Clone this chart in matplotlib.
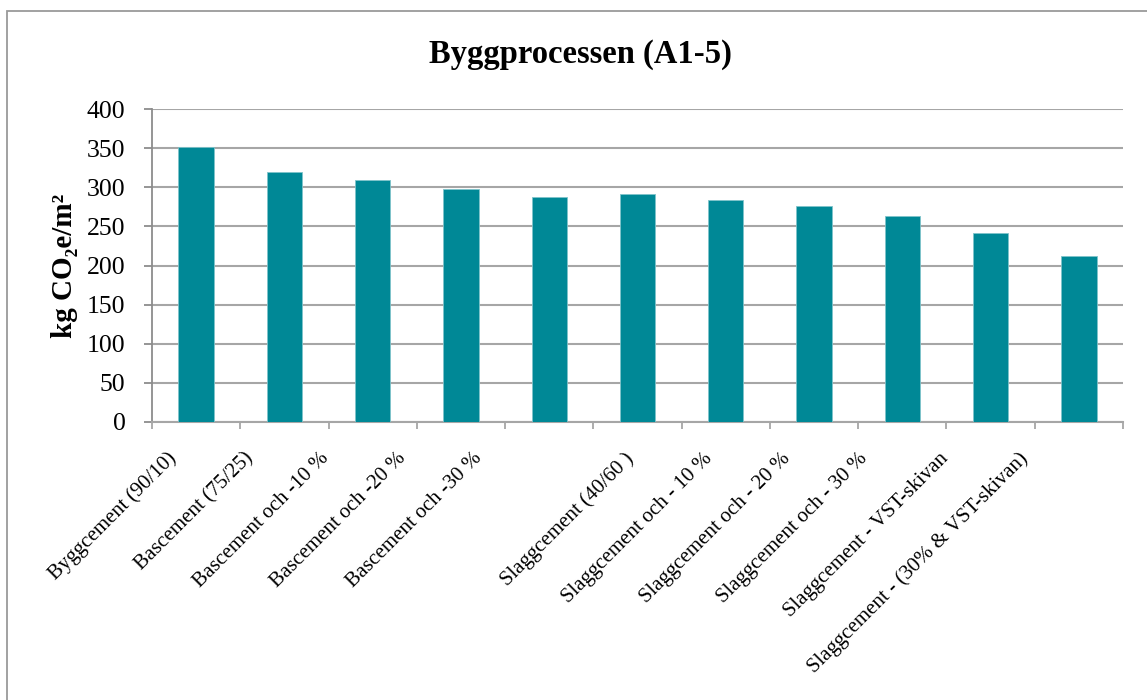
import matplotlib
matplotlib.use("Agg")
import matplotlib.pyplot as plt
from matplotlib.patches import Rectangle
from matplotlib.ticker import FixedLocator
from matplotlib.transforms import offset_copy

# data
categories = [
    "Byggcement (90/10)",
    "Bascement (75/25)",
    "Bascement och -10 %",
    "Bascement och -20 %",
    "Bascement och -30 %",
    "Slaggcement (40/60 )",
    "Slaggcement och - 10 %",
    "Slaggcement och - 20 %",
    "Slaggcement och - 30 %",
    "Slaggcement - VST-skivan",
    "Slaggcement - (30% & VST-skivan)",
]
values = [352, 320, 309, 298, 287, 292, 284, 276, 263, 241, 212]
yticks = [0, 50, 100, 150, 200, 250, 300, 350, 400]

# where Excel put the end of each rotated label, px left of the bar centre
label_shift = [-30, -41, -53, -65, -77, -14, -23, -33, -44, -52, -61]

bar_color = "#008896"
grid_color = "#a6a6a6"
plt.rcParams["font.family"] = ["Liberation Serif", "DejaVu Serif"]

W, H = 1147, 700
fig = plt.figure(figsize=(W / 100, H / 100), dpi=100)

# outer chart border (runs past right/bottom edge like the screenshot)
fig.patches.append(Rectangle((7.5 / W, -0.2), 1.2, 1.2 - 10.5 / H,
                             transform=fig.transFigure, fill=False,
                             edgecolor="#9a9a9a", linewidth=1.3))

ax = fig.add_axes([152 / W, 1 - 422 / H, (1123 - 152) / W, (422 - 109) / H])
x = list(range(len(values)))
ax.bar(x, values, width=0.4, color=bar_color, edgecolor="#7fc3ca",
       linewidth=0.6, zorder=3)

ax.set_ylim(0, 400)
ax.set_xlim(-0.5, len(values) - 0.5)
ax.set_yticks(yticks)
ax.yaxis.grid(True, color=grid_color, linewidth=1.5, zorder=0)

for s in ["top", "right"]:
    ax.spines[s].set_visible(False)
ax.spines["left"].set_color("#8c8c8c")
ax.spines["left"].set_linewidth(1.3)
ax.spines["bottom"].set_color("#a6a6a6")
ax.spines["bottom"].set_linewidth(1.5)

ax.tick_params(axis="y", direction="out", length=6, width=1.3,
               color="#8c8c8c", labelsize=18.5, pad=13)

# x tick marks sit between the bars
ax.set_xticks(x)
ax.set_xticklabels([])
ax.tick_params(axis="x", which="major", length=0)
ax.xaxis.set_minor_locator(FixedLocator([i - 0.5 for i in range(len(values) + 1)]))
ax.tick_params(axis="x", which="minor", direction="out", length=5,
               width=1.3, color="#a6a6a6")

# rotated category labels
base = ax.get_xaxis_transform()
for i, (lab, dx) in enumerate(zip(categories, label_shift)):
    tr = offset_copy(base, fig=fig, x=dx, y=-27, units="dots")
    ax.text(i, 0, lab, transform=tr, rotation=45, rotation_mode="anchor",
            ha="right", va="top", fontsize=15)

ax.set_ylabel("kg CO\u2082e/m\u00b2", fontsize=21, fontweight="bold")
ax.yaxis.set_label_coords((78 - 152) / (1123 - 152), 0.5)

fig.text(580 / W, 1 - 63 / H, "Byggprocessen (A1-5)", ha="center",
         va="baseline", fontsize=23.5, fontweight="bold")

fig.savefig("out.png", dpi=100)
